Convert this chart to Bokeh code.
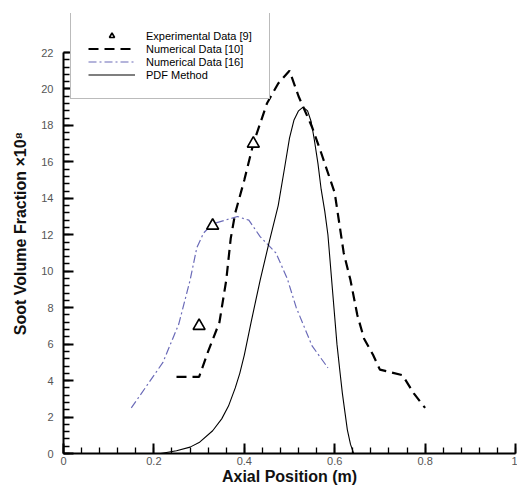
from bokeh.plotting import figure
from bokeh.models import SingleIntervalTicker, CustomJSTickFormatter, Range1d
from bokeh.embed import file_html
from bokeh.resources import INLINE

# Experimental Data [9]
exp_x = [0.30, 0.33, 0.42]
exp_y = [7.0, 12.5, 17.0]

# Numerical Data [10]
num10_x = [0.25, 0.30, 0.32, 0.345, 0.36, 0.37, 0.38, 0.40, 0.42, 0.45, 0.475, 0.50,
           0.52, 0.55, 0.57, 0.60, 0.62, 0.635, 0.65, 0.665, 0.685, 0.70, 0.75, 0.775, 0.80]
num10_y = [4.2, 4.2, 5.6, 7.2, 9.5, 11.8, 13.2, 15.0, 17.0, 19.2, 20.3, 21.0,
           19.6, 17.9, 16.5, 14.3, 11.0, 9.5, 7.6, 6.3, 5.4, 4.6, 4.3, 3.3, 2.5]

# Numerical Data [16]
num16_x = [0.15, 0.22, 0.255, 0.28, 0.295, 0.31, 0.33, 0.385, 0.41, 0.435, 0.47,
           0.495, 0.515, 0.55, 0.585]
num16_y = [2.5, 5.0, 7.1, 9.5, 11.3, 12.1, 12.6, 13.0, 12.8, 11.9, 11.0,
           9.6, 8.0, 5.9, 4.7]

# PDF Method
pdf_x = [0.215, 0.25, 0.28, 0.30, 0.33, 0.35, 0.365, 0.38, 0.39, 0.40, 0.415, 0.435,
         0.455, 0.475, 0.49, 0.50, 0.51, 0.52, 0.53, 0.54, 0.548, 0.555, 0.563, 0.57,
         0.578, 0.585, 0.595, 0.605, 0.612, 0.617, 0.623, 0.628, 0.635, 0.642]
pdf_y = [0.0, 0.15, 0.35, 0.6, 1.25, 1.9, 2.6, 3.6, 4.4, 5.4, 7.2, 9.5,
         11.6, 13.6, 15.8, 17.3, 18.3, 18.8, 19.0, 18.8, 18.2, 17.2, 15.9, 14.5,
         13.3, 12.0, 9.0, 6.0, 4.4, 3.3, 2.2, 1.3, 0.5, 0.0]

FONT = "Liberation Sans"

p = figure(width=517, height=489, output_backend="svg", toolbar_location=None,
           x_range=Range1d(0, 1), y_range=Range1d(0, 24.14),
           min_border_left=63, min_border_right=2, min_border_top=13, min_border_bottom=36)
p.outline_line_color = None
p.xgrid.visible = False
p.ygrid.visible = False
p.background_fill_color = "white"
p.border_fill_color = "white"

p.line(num10_x, num10_y, line_color="black", line_width=2.2, line_dash="10 6",
       legend_label="Numerical Data [10]")
p.line(num16_x, num16_y, line_color="#6b6bb8", line_width=1.2, line_dash="8 3 2 3",
       legend_label="Numerical Data [16]")
p.line(pdf_x, pdf_y, line_color="black", line_width=1.1, legend_label="PDF Method")
p.scatter(exp_x, exp_y, marker="triangle", size=12, line_color="black", line_width=1.6,
          fill_color="white", legend_label="Experimental Data [9]")

# reorder legend
items = p.legend.items
p.legend.items = [items[3], items[0], items[1], items[2]]

for ax in (p.xaxis[0], p.yaxis[0]):
    ax.axis_line_width = 2
    ax.axis_line_color = "black"
    ax.major_tick_in = 10
    ax.major_tick_out = 0
    ax.major_tick_line_width = 2
    ax.minor_tick_in = 6
    ax.minor_tick_out = 0
    ax.minor_tick_line_width = 1.3
    ax.major_label_text_font = FONT
    ax.major_label_text_font_size = "11px"
    ax.major_label_text_color = "#555555"
    ax.axis_label_text_font = FONT
    ax.axis_label_text_font_size = "16px"
    ax.axis_label_text_font_style = "bold"
    ax.axis_label_text_color = "#111111"

p.xaxis[0].ticker = SingleIntervalTicker(interval=0.2, num_minor_ticks=5)
p.xaxis[0].formatter = CustomJSTickFormatter(code="return String(Math.round(tick*10)/10);")
p.xaxis[0].axis_label = "Axial Position (m)"
p.xaxis[0].major_label_standoff = 3
p.xaxis[0].axis_label_standoff = 0

p.yaxis[0].ticker = SingleIntervalTicker(interval=2, num_minor_ticks=5)
p.yaxis[0].bounds = (0, 22)
p.yaxis[0].axis_label = "Soot Volume Fraction \u00d710\u2078"
p.yaxis[0].major_label_standoff = 10
p.yaxis[0].axis_label_standoff = 9

lg = p.legend[0]
lg.location = (7, 354)
lg.margin = 0
lg.padding = 17
lg.spacing = 0
lg.label_height = 13
lg.glyph_height = 13
lg.glyph_width = 47
lg.label_standoff = 11
lg.label_text_font = FONT
lg.label_text_font_size = "11px"
lg.label_text_color = "#000000"
lg.border_line_color = "#777777"
lg.border_line_width = 1
lg.background_fill_color = "white"
lg.background_fill_alpha = 1

open("out.html", "w").write(file_html(p, INLINE))
